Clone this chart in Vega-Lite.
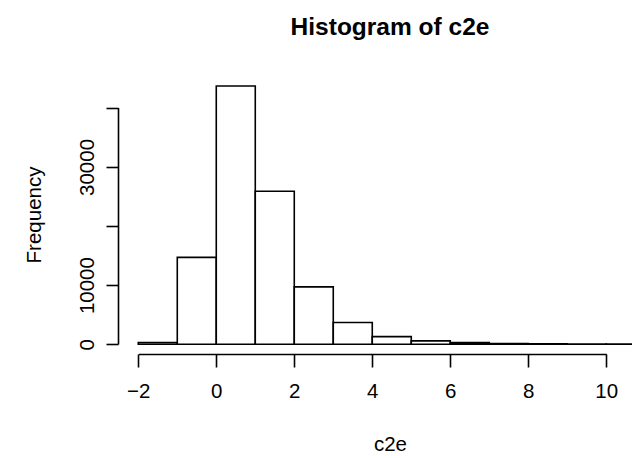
{
  "$schema": "https://vega.github.io/schema/vega-lite/v6.json",
  "autosize": "none",
  "padding": {"left": 118, "top": 75, "right": 0, "bottom": 104},
  "width": 514,
  "height": 279,
  "background": "white",
  "config": {
    "view": {"stroke": null},
    "font": "Liberation Sans"
  },
  "title": {
    "text": "Histogram of c2e",
    "fontSize": 24.5,
    "fontWeight": "bold",
    "color": "black",
    "anchor": "middle",
    "baseline": "alphabetic",
    "offset": 16,
    "dx": 15
  },
  "data": {
    "values": [
      {"bin_start": -2, "bin_end": -1, "count": 280},
      {"bin_start": -1, "bin_end": 0, "count": 14700},
      {"bin_start": 0, "bin_end": 1, "count": 43700},
      {"bin_start": 1, "bin_end": 2, "count": 25900},
      {"bin_start": 2, "bin_end": 3, "count": 9700},
      {"bin_start": 3, "bin_end": 4, "count": 3680},
      {"bin_start": 4, "bin_end": 5, "count": 1280},
      {"bin_start": 5, "bin_end": 6, "count": 560},
      {"bin_start": 6, "bin_end": 7, "count": 260},
      {"bin_start": 7, "bin_end": 8, "count": 120},
      {"bin_start": 8, "bin_end": 9, "count": 70},
      {"bin_start": 9, "bin_end": 10, "count": 40},
      {"bin_start": 10, "bin_end": 11, "count": 25}
    ]
  },
  "mark": {"type": "rect", "fill": "white", "stroke": "black", "strokeWidth": 1.6, "clip": true},
  "encoding": {
    "x": {
      "field": "bin_start",
      "type": "quantitative",
      "scale": {"domain": [-2.52, 10.66], "nice": false, "zero": false},
      "axis": {
        "title": "c2e",
        "values": [-2, 0, 2, 4, 6, 8, 10],
        "format": "d",
        "grid": false,
        "domainColor": "black",
        "domainWidth": 1.6,
        "domainDash": [0, 20.3, 468, 2000],
        "tickColor": "black",
        "tickWidth": 1.6,
        "tickSize": 13,
        "labelFontSize": 20.5,
        "labelColor": "black",
        "labelPadding": 14,
        "labelFlush": false,
        "labelOverlap": false,
        "titleFontSize": 20.5,
        "titleFontWeight": "normal",
        "titleColor": "black",
        "titleX": 272,
        "titleY": 96,
        "titleAlign": "center",
        "titleBaseline": "alphabetic"
      }
    },
    "x2": {"field": "bin_end"},
    "y": {
      "field": "count",
      "type": "quantitative",
      "scale": {"domain": [-1659, 45565], "nice": false, "zero": false},
      "axis": {
        "title": "Frequency",
        "values": [0, 10000, 20000, 30000, 40000],
        "format": "d",
        "labelExpr": "datum.value == 20000 || datum.value == 40000 ? '' : datum.label",
        "grid": false,
        "domainColor": "black",
        "domainWidth": 1.6,
        "domainDash": [0, 10, 236.5, 2000],
        "tickColor": "black",
        "tickWidth": 1.6,
        "tickSize": 12,
        "labelFontSize": 20.5,
        "labelColor": "black",
        "labelAngle": 270,
        "labelAlign": "center",
        "labelBaseline": "bottom",
        "labelPadding": 9,
        "labelFlush": false,
        "labelOverlap": false,
        "titleFontSize": 20.5,
        "titleFontWeight": "normal",
        "titleColor": "black",
        "titleX": -78,
        "titleY": 139.5,
        "titleAngle": 270,
        "titleAlign": "center",
        "titleBaseline": "alphabetic"
      }
    },
    "y2": {"datum": 0}
  }
}
